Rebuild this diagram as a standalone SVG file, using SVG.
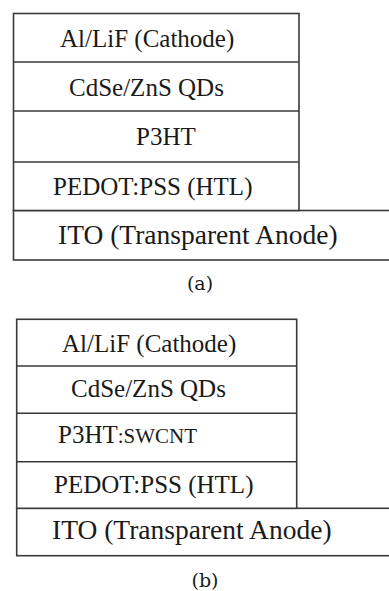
<svg xmlns="http://www.w3.org/2000/svg" width="389" height="591" viewBox="0 0 389 591">
<style>
.box{fill:#fff;stroke:#3a3a3a;stroke-width:1.6}
.ln{stroke:#3a3a3a;stroke-width:1.6;fill:none}
</style>
<rect width="389" height="591" fill="#fff"/>
<g id="stack-a">
  <g id="a-ito"><rect class="box" x="13.5" y="210.5" width="390" height="49.5"/><text x="58" y="244" font-family="Liberation Serif" font-size="27.5" fill="#1a1a1a">ITO (Transparent Anode)</text></g>
  <g id="a-upper"><rect class="box" x="13.5" y="13.5" width="285.5" height="197"/></g>
  <g id="a-cathode"><text x="60" y="47" font-family="Liberation Serif" font-size="25" fill="#1a1a1a">Al/LiF (Cathode)</text></g>
  <g id="a-qds"><line class="ln" x1="13.5" y1="62" x2="299" y2="62"/><text x="69" y="96" font-family="Liberation Serif" font-size="25" fill="#1a1a1a">CdSe/ZnS QDs</text></g>
  <g id="a-p3ht"><line class="ln" x1="13.5" y1="111" x2="299" y2="111"/><text x="136" y="145" font-family="Liberation Serif" font-size="25" fill="#1a1a1a">P3HT</text></g>
  <g id="a-pedot"><line class="ln" x1="13.5" y1="162" x2="299" y2="162"/><text x="53" y="195" font-family="Liberation Serif" font-size="25" fill="#1a1a1a">PEDOT:PSS (HTL)</text></g>
  <text x="200" y="290" font-family="DejaVu Serif" font-size="19" fill="#1a1a1a" text-anchor="middle">(a)</text>
</g>
<g id="stack-b">
  <g id="b-ito"><rect class="box" x="16.7" y="508.3" width="390" height="47.4"/><text x="52" y="539" font-family="Liberation Serif" font-size="27.5" fill="#1a1a1a">ITO (Transparent Anode)</text></g>
  <g id="b-upper"><rect class="box" x="16.7" y="319.3" width="280" height="189"/></g>
  <g id="b-cathode"><text x="62" y="352" font-family="Liberation Serif" font-size="25" fill="#1a1a1a">Al/LiF (Cathode)</text></g>
  <g id="b-qds"><line class="ln" x1="16.7" y1="366" x2="296.7" y2="366"/><text x="71" y="397" font-family="Liberation Serif" font-size="25" fill="#1a1a1a">CdSe/ZnS QDs</text></g>
  <g id="b-p3ht"><line class="ln" x1="16.7" y1="413.3" x2="296.7" y2="413.3"/><text x="58" y="443" font-family="Liberation Serif" font-size="25" fill="#1a1a1a">P3HT<tspan font-size="21">:SWCNT</tspan></text></g>
  <g id="b-pedot"><line class="ln" x1="16.7" y1="461.7" x2="296.7" y2="461.7"/><text x="54" y="493" font-family="Liberation Serif" font-size="25" fill="#1a1a1a">PEDOT:PSS (HTL)</text></g>
  <text x="205" y="587" font-family="DejaVu Serif" font-size="19" fill="#1a1a1a" text-anchor="middle">(b)</text>
</g>
</svg>
